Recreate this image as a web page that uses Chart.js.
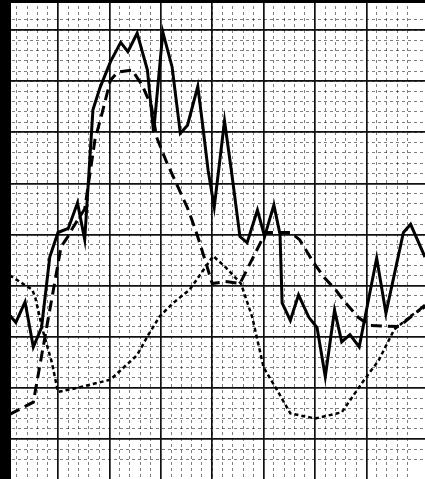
<!DOCTYPE html>
<html>
<head>
<meta charset="utf-8">
<script src="https://cdn.jsdelivr.net/npm/chart.js@4"></script>
<style>
  html, body { margin: 0; padding: 0; background: #fff; }
  canvas { display: block; }
</style>
</head>
<body>
<canvas id="paperChart" width="425" height="479"></canvas>
<script>
// values, in small-square units of the graph paper
const solidX = [0.3, 0.9, 1.8, 2.6, 3.4, 4.2, 5.0, 6.0, 6.9, 7.6, 8.4, 9.1, 10.1, 11.1, 11.8, 12.7, 13.7, 14.3, 15.2, 16.1, 16.9, 17.6, 18.6, 19.1, 19.6, 20.2, 21.2, 21.9, 22.7, 23.4, 24.4, 25.1, 26.0, 26.6, 26.8, 27.6, 28.4, 29.4, 30.2, 31.0, 31.9, 32.6, 33.4, 34.3, 36.0, 36.9, 38.6, 39.3, 40.7];
const solidY = [17.1, 16.4, 18.4, 14.0, 15.9, 22.8, 25.2, 25.6, 28.1, 24.5, 37.2, 39.4, 41.9, 43.8, 42.9, 44.7, 41.1, 35.0, 44.8, 41.4, 34.9, 35.7, 39.5, 35.5, 31.3, 27.7, 36.1, 31.0, 24.8, 24.2, 27.4, 24.8, 27.9, 25.0, 18.3, 16.6, 19.1, 16.9, 15.9, 11.1, 17.6, 14.5, 15.2, 14.0, 22.7, 17.3, 25.2, 26.0, 22.8];

const dashedX = [0.3, 2.6, 5.3, 5.9, 6.4, 7.6, 8.6, 9.3, 10.1, 10.8, 12.2, 13.2, 14.1, 14.6, 15.6, 16.6, 17.6, 18.4, 19.4, 20.0, 21.3, 22.7, 25.2, 27.6, 28.5, 29.9, 30.9, 32.0, 32.9, 34.2, 35.3, 38.2, 40.7];
const dashedY = [7.4, 8.6, 23.8, 24.7, 25.6, 27.5, 34.3, 36.9, 40.1, 40.9, 41.1, 39.6, 37.5, 34.5, 32.0, 29.8, 27.6, 25.4, 22.2, 20.2, 20.4, 20.2, 25.2, 25.2, 24.5, 22.2, 20.8, 19.6, 18.4, 16.9, 16.1, 16.0, 18.1];

const dottedX = [0.3, 2.5, 2.8, 3.5, 4.4, 5.0, 6.9, 10.1, 12.7, 13.8, 14.9, 16.2, 17.8, 20.1, 21.3, 22.8, 23.9, 25.0, 26.3, 27.6, 30.0, 32.6, 34.8, 36.2, 37.7, 39.4, 40.7];
const dottedY = [21.0, 19.6, 18.8, 15.7, 12.5, 9.6, 10.0, 10.8, 13.2, 15.2, 17.0, 18.3, 19.6, 22.9, 21.8, 20.2, 16.9, 12.0, 9.8, 7.5, 7.0, 7.6, 10.8, 12.7, 15.7, 17.1, 17.9];

// visible window of the sheet
const X_MIN = -0.64, X_MAX = 40.7;
const Y_MIN = 1.08, Y_MAX = 47.95;

function toPoints(xs, ys) {
    return xs.map((x, i) => ({ x: x, y: ys[i] }));
}

function onStep(value, step) {
    const r = value / step;
    return Math.abs(r - Math.round(r)) < 1e-6;
}

function gridAxis(axis, step, major) {
    return {
        type: 'linear',
        axis: axis,
        display: true,
        min: axis === 'x' ? X_MIN : Y_MIN,
        max: axis === 'x' ? X_MAX : Y_MAX,
        position: axis === 'x' ? 'bottom' : 'left',
        ticks: { display: false, stepSize: step, autoSkip: false },
        border: { display: false, dash: major ? [] : [3, 3] },
        grid: {
            drawTicks: false,
            color: (ctx) => {
                if (!ctx.tick || !onStep(ctx.tick.value, step)) return 'rgba(0,0,0,0)';
                return major ? '#111' : 'rgba(0,0,0,0.5)';
            },
            lineWidth: major ? 1.7 : 1
        }
    };
}

// black scanner edges
const scanEdges = {
    id: 'scanEdges',
    afterDraw(chart) {
        const ctx = chart.ctx;
        ctx.save();
        ctx.fillStyle = '#000';
        ctx.fillRect(0, 0, 11, chart.height);
        ctx.fillRect(0, 0, chart.width, 3);
        ctx.restore();
    }
};

new Chart(document.getElementById('paperChart'), {
    type: 'line',
    data: {
        datasets: [
            {
                label: 'solid',
                data: toPoints(solidX, solidY),
                borderColor: '#000',
                borderWidth: 3,
                pointRadius: 0,
                tension: 0
            },
            {
                label: 'dashed',
                data: toPoints(dashedX, dashedY),
                borderColor: '#000',
                borderWidth: 3,
                borderDash: [11, 6],
                pointRadius: 0,
                tension: 0
            },
            {
                label: 'dotted',
                data: toPoints(dottedX, dottedY),
                borderColor: '#000',
                borderWidth: 2.5,
                borderDash: [4, 3],
                pointRadius: 0,
                tension: 0
            }
        ]
    },
    options: {
        responsive: false,
        animation: false,
        layout: { padding: 0 },
        scales: {
            xMinor: gridAxis('x', 1, false),
            yMinor: gridAxis('y', 1, false),
            x: gridAxis('x', 5, true),
            y: gridAxis('y', 5, true)
        },
        plugins: {
            legend: { display: false },
            tooltip: { enabled: false }
        }
    },
    plugins: [scanEdges]
});
</script>
</body>
</html>
